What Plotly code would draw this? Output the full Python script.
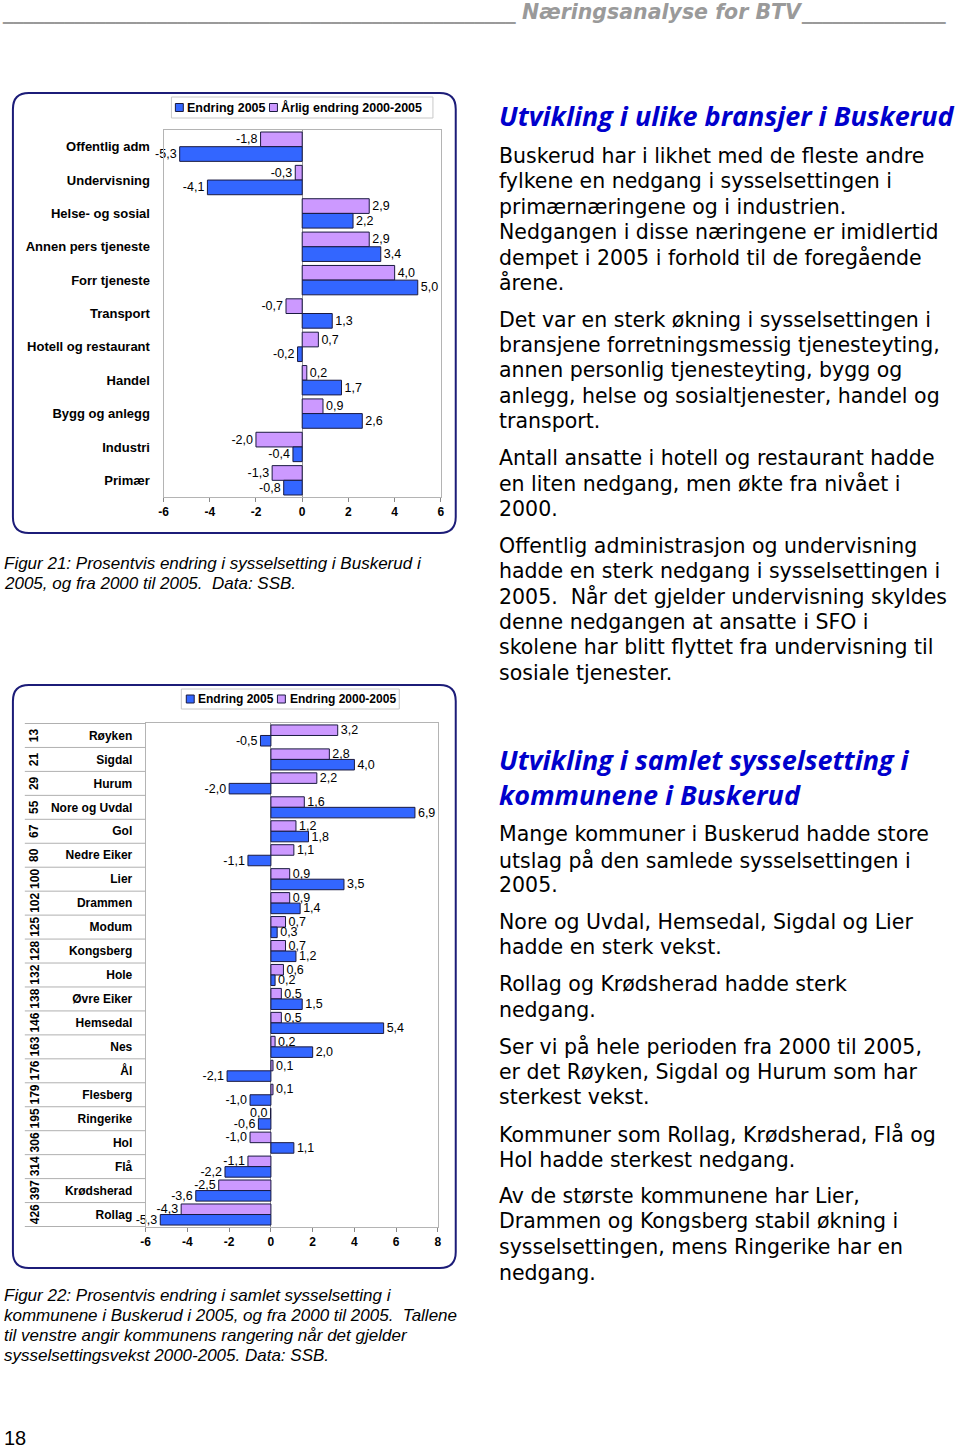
import plotly.graph_objects as go

# ---------------- DATA ----------------
sectors = ["Offentlig adm", "Undervisning", "Helse- og sosial", "Annen pers tjeneste",
           "Forr tjeneste", "Transport", "Hotell og restaurant", "Handel",
           "Bygg og anlegg", "Industri", "Primær"]
sector_change_2005 = [-5.3, -4.1, 2.2, 3.4, 5.0, 1.3, -0.2, 1.7, 2.6, -0.4, -0.8]
sector_annual_2000_2005 = [-1.8, -0.3, 2.9, 2.9, 4.0, -0.7, 0.7, 0.2, 0.9, -2.0, -1.3]
top_series_names = ["Endring 2005", "Årlig endring 2000-2005"]
top_tickvals = [-6, -4, -2, 0, 2, 4, 6]
top_ticktext = ["-6", "-4", "-2", "0", "2", "4", "6"]

municipalities = ["Røyken", "Sigdal", "Hurum", "Nore og Uvdal", "Gol", "Nedre Eiker", "Lier",
                  "Drammen", "Modum", "Kongsberg", "Hole", "Øvre Eiker", "Hemsedal", "Nes",
                  "Ål", "Flesberg", "Ringerike", "Hol", "Flå", "Krødsherad", "Rollag"]
ranks = [13, 21, 29, 55, 67, 80, 100, 102, 125, 128, 132, 138, 146, 163, 176, 179, 195,
         306, 314, 397, 426]
mun_change_2005 = [-0.5, 4.0, -2.0, 6.9, 1.8, -1.1, 3.5, 1.4, 0.3, 1.2, 0.2, 1.5, 5.4, 2.0,
                   -2.1, -1.0, -0.6, 1.1, -2.2, -3.6, -5.3]
mun_change_2000_2005 = [3.2, 2.8, 2.2, 1.6, 1.2, 1.1, 0.9, 0.9, 0.7, 0.7, 0.6, 0.5, 0.5, 0.2,
                        0.1, 0.1, -0.02, -1.0, -1.1, -2.5, -4.3]
bottom_series_names = ["Endring 2005", "Endring 2000-2005"]
bottom_tickvals = [-6, -4, -2, 0, 2, 4, 6, 8]
bottom_ticktext = ["-6", "-4", "-2", "0", "2", "4", "6", "8"]

# ---------------- STYLE ----------------
W, H = 960, 1448
BLUE = "#3366ff"
PURPLE = "#cc99ff"
OUTLINE = "#1a1a40"
FRAME = "#1c1c78"
AXGRAY = "#b4b4b4"
HEAD_BLUE = "#0000cc"
LABEL_FONT = "Liberation Sans, Arial, sans-serif"
BODY_FONT = "DejaVu Sans, sans-serif"


def px(x):
    return x / W


def py(y):
    return 1 - y / H


def fmt(vals):
    out = []
    for v in vals:
        s = f"{abs(v):.1f}".replace(".", ",")
        if round(v, 1) < 0:
            s = "-" + s
        out.append(s)
    return out


fig = go.Figure()

bar_text_font = dict(family=LABEL_FONT, size=12.5, color="black")

# top chart traces (purple first -> upper bar of each group with reversed axis)
fig.add_trace(go.Bar(
    y=sectors, x=sector_annual_2000_2005, orientation="h", name=top_series_names[1],
    marker=dict(color=PURPLE, line=dict(color=OUTLINE, width=1)),
    text=fmt(sector_annual_2000_2005), textposition="outside", constraintext="none",
    textfont=bar_text_font, cliponaxis=False, showlegend=False, hoverinfo="skip",
    xaxis="x", yaxis="y"))
fig.add_trace(go.Bar(
    y=sectors, x=sector_change_2005, orientation="h", name=top_series_names[0],
    marker=dict(color=BLUE, line=dict(color=OUTLINE, width=1)),
    text=fmt(sector_change_2005), textposition="outside", constraintext="none",
    textfont=bar_text_font, cliponaxis=False, showlegend=False, hoverinfo="skip",
    xaxis="x", yaxis="y"))

# bottom chart traces
fig.add_trace(go.Bar(
    y=municipalities, x=mun_change_2000_2005, orientation="h", name=bottom_series_names[1],
    marker=dict(color=PURPLE, line=dict(color=OUTLINE, width=1)),
    text=fmt(mun_change_2000_2005), textposition="outside", constraintext="none",
    textfont=bar_text_font, cliponaxis=False, showlegend=False, hoverinfo="skip",
    xaxis="x2", yaxis="y2"))
fig.add_trace(go.Bar(
    y=municipalities, x=mun_change_2005, orientation="h", name=bottom_series_names[0],
    marker=dict(color=BLUE, line=dict(color=OUTLINE, width=1)),
    text=fmt(mun_change_2005), textposition="outside", constraintext="none",
    textfont=bar_text_font, cliponaxis=False, showlegend=False, hoverinfo="skip",
    xaxis="x2", yaxis="y2"))

axis_common = dict(showgrid=False, showline=True, mirror=True, linecolor=AXGRAY, linewidth=1,
                   fixedrange=True)

fig.update_layout(
    width=W, height=H, autosize=False,
    margin=dict(l=0, r=0, t=0, b=0),
    paper_bgcolor="white", plot_bgcolor="white",
    barmode="group", bargap=0.12, bargroupgap=0,
    xaxis=dict(domain=[px(160), px(440)], range=[-6, 6], anchor="y",
               tickvals=top_tickvals, ticktext=top_ticktext,
               ticks="outside", ticklen=4, tickcolor="#888888",
               zeroline=True, zerolinecolor="#9a9a9a", zerolinewidth=1,
               tickfont=dict(family=LABEL_FONT, size=12, color="black", weight="bold"),
               **axis_common),
    yaxis=dict(domain=[py(497), py(130)], anchor="x", type="category",
               categoryorder="array", categoryarray=sectors, autorange="reversed",
               ticks="", ticklabelstandoff=10,
               tickfont=dict(family=LABEL_FONT, size=13, color="black", weight="bold"),
               **axis_common),
    xaxis2=dict(domain=[px(142), px(437)], range=[-6, 8], anchor="y2",
                tickvals=bottom_tickvals, ticktext=bottom_ticktext,
                ticks="outside", ticklen=4, tickcolor="#888888",
                zeroline=True, zerolinecolor="#9a9a9a", zerolinewidth=1,
                tickfont=dict(family=LABEL_FONT, size=12, color="black", weight="bold"),
                **axis_common),
    yaxis2=dict(domain=[py(1227), py(723)], anchor="x2", type="category",
                categoryorder="array", categoryarray=municipalities, autorange="reversed",
                ticks="", ticklabelstandoff=10,
                tickfont=dict(family=LABEL_FONT, size=12, color="black", weight="bold"),
                **axis_common),
)

shapes = []
annotations = []


def rrect(x0, y0, x1, y1, r):
    def P(x, y):
        return f"{px(x):.5f},{py(y):.5f}"
    return (f"M{P(x0 + r, y0)} L{P(x1 - r, y0)} Q{P(x1, y0)} {P(x1, y0 + r)} "
            f"L{P(x1, y1 - r)} Q{P(x1, y1)} {P(x1 - r, y1)} L{P(x0 + r, y1)} "
            f"Q{P(x0, y1)} {P(x0, y1 - r)} L{P(x0, y0 + r)} Q{P(x0, y0)} {P(x0 + r, y0)} Z")


# frames
for (x0, y0, x1, y1) in [(8, 93, 455, 533), (8, 685, 455, 1268)]:
    shapes.append(dict(type="path", xref="paper", yref="paper", path=rrect(x0, y0, x1, y1, 16),
                       line=dict(color=FRAME, width=2), fillcolor="rgba(0,0,0,0)", layer="below"))


def text(x, y, s, size, family=BODY_FONT, color="black", xanchor="left", **kw):
    annotations.append(dict(xref="paper", yref="paper", x=px(x), y=py(y), text=s,
                            showarrow=False, xanchor=xanchor, yanchor="middle",
                            font=dict(family=family, size=size, color=color), **kw))


# manual legends
def legend(box, items, size):
    x0, y0, x1, y1 = box
    shapes.append(dict(type="rect", xref="paper", yref="paper", x0=px(x0), x1=px(x1),
                       y0=py(y1), y1=py(y0), line=dict(color="#c8c8c8", width=1),
                       fillcolor="white"))
    yc = (y0 + y1) / 2
    for sx, tx, color, name in items:
        shapes.append(dict(type="rect", xref="paper", yref="paper", x0=px(sx), x1=px(sx + 8),
                           y0=py(yc + 4), y1=py(yc - 4), line=dict(color=OUTLINE, width=1),
                           fillcolor=color))
        text(tx, yc, f"<b>{name}</b>", size, family=LABEL_FONT)


legend((168, 97, 432, 118), [(172, 182, BLUE, top_series_names[0]),
                             (267, 277, PURPLE, top_series_names[1])], 12.5)
legend((178, 689, 398, 709), [(183, 193, BLUE, bottom_series_names[0]),
                              (275, 286, PURPLE, bottom_series_names[1])], 12)

# bottom chart category table lines and ranks
for i in range(len(municipalities) + 1):
    shapes.append(dict(type="line", xref="paper", yref="y2", x0=px(20), x1=px(142),
                       y0=i - 0.5, y1=i - 0.5, line=dict(color="#b0b0b0", width=1)))
for name, r in zip(municipalities, ranks):
    annotations.append(dict(xref="paper", yref="y2", x=px(30), y=name, text=f"<b>{r}</b>",
                            textangle=-90, showarrow=False, xanchor="center", yanchor="middle",
                            font=dict(family=LABEL_FONT, size=12, color="black")))

# header
text(518, 12, "<b><i>" + "_" * 50 + "</i></b>", 20.5, color="#9a9a9a", xanchor="right")
text(520, 12, "<b><i>Næringsanalyse for BTV</i></b>", 20.5, color="#9a9a9a")
text(802, 12, "<b><i>" + "_" * 14 + "</i></b>", 20.5, color="#9a9a9a")

# right column headings
HEAD_FONT = "Open Sans, sans-serif"
text(497, 115, "<b><i>Utvikling i ulike bransjer i Buskerud</i></b>", 27, family=HEAD_FONT,
     color=HEAD_BLUE)
text(497, 777, "<b><i>Utvikling i samlet sysselsetting i<br>kommunene i Buskerud</i></b>", 27,
     family=HEAD_FONT, color=HEAD_BLUE, align="left")

paragraphs = [
    ([156, 181, 207, 232, 257, 283],
     ["Buskerud har i likhet med de fleste andre",
      "fylkene en nedgang i sysselsettingen i",
      "primærnæringene og i industrien.",
      "Nedgangen i disse næringene er imidlertid",
      "dempet i 2005 i forhold til de foregående",
      "årene."]),
    ([320, 345, 370, 396, 421],
     ["Det var en sterk økning i sysselsettingen i",
      "bransjene forretningsmessig tjenesteyting,",
      "annen personlig tjenesteyting, bygg og",
      "anlegg, helse og sosialtjenester, handel og",
      "transport."]),
    ([458, 483, 509],
     ["Antall ansatte i hotell og restaurant hadde",
      "en liten nedgang, men økte fra nivået i",
      "2000."]),
    ([546, 571, 597, 622, 647, 673],
     ["Offentlig administrasjon og undervisning",
      "hadde en sterk nedgang i sysselsettingen i",
      "2005.\u00a0 Når det gjelder undervisning skyldes",
      "denne nedgangen at ansatte i SFO i",
      "skolene har blitt flyttet fra undervisning til",
      "sosiale tjenester."]),
    ([834, 860, 885],
     ["Mange kommuner i Buskerud hadde store",
      "utslag på den samlede sysselsettingen i",
      "2005."]),
    ([922, 947],
     ["Nore og Uvdal, Hemsedal, Sigdal og Lier",
      "hadde en sterk vekst."]),
    ([984, 1010],
     ["Rollag og Krødsherad hadde sterk",
      "nedgang."]),
    ([1046, 1072, 1097],
     ["Ser vi på hele perioden fra 2000 til 2005,",
      "er det Røyken, Sigdal og Hurum som har",
      "sterkest vekst."]),
    ([1134, 1160],
     ["Kommuner som Rollag, Krødsherad, Flå og",
      "Hol hadde sterkest nedgang."]),
    ([1196, 1221, 1247, 1273],
     ["Av de største kommunene har Lier,",
      "Drammen og Kongsberg stabil økning i",
      "sysselsettingen, mens Ringerike har en",
      "nedgang."]),
]
for ys, lines in paragraphs:
    for yy, line in zip(ys, lines):
        text(497, yy, line, 20.5)

# captions
captions = [
    ([563, 583],
     ["Figur 21: Prosentvis endring i sysselsetting i Buskerud i",
      "2005, og fra 2000 til 2005.\u00a0 Data: SSB."]),
    ([1295, 1315, 1335, 1355],
     ["Figur 22: Prosentvis endring i samlet sysselsetting i",
      "kommunene i Buskerud i 2005, og fra 2000 til 2005.\u00a0 Tallene",
      "til venstre angir kommunens rangering når det gjelder",
      "sysselsettingsvekst 2000-2005. Data: SSB."]),
]
for ys, lines in captions:
    for yy, line in zip(ys, lines):
        text(-3, yy, f"<i>{line}</i>", 17, family=LABEL_FONT)

text(-3, 1438, "18", 20, family=LABEL_FONT)

fig.update_layout(shapes=shapes, annotations=annotations)
fig.write_html("out.html", config={"displayModeBar": False},
               post_script="document.body.style.margin='0';document.body.style.padding='0';")
